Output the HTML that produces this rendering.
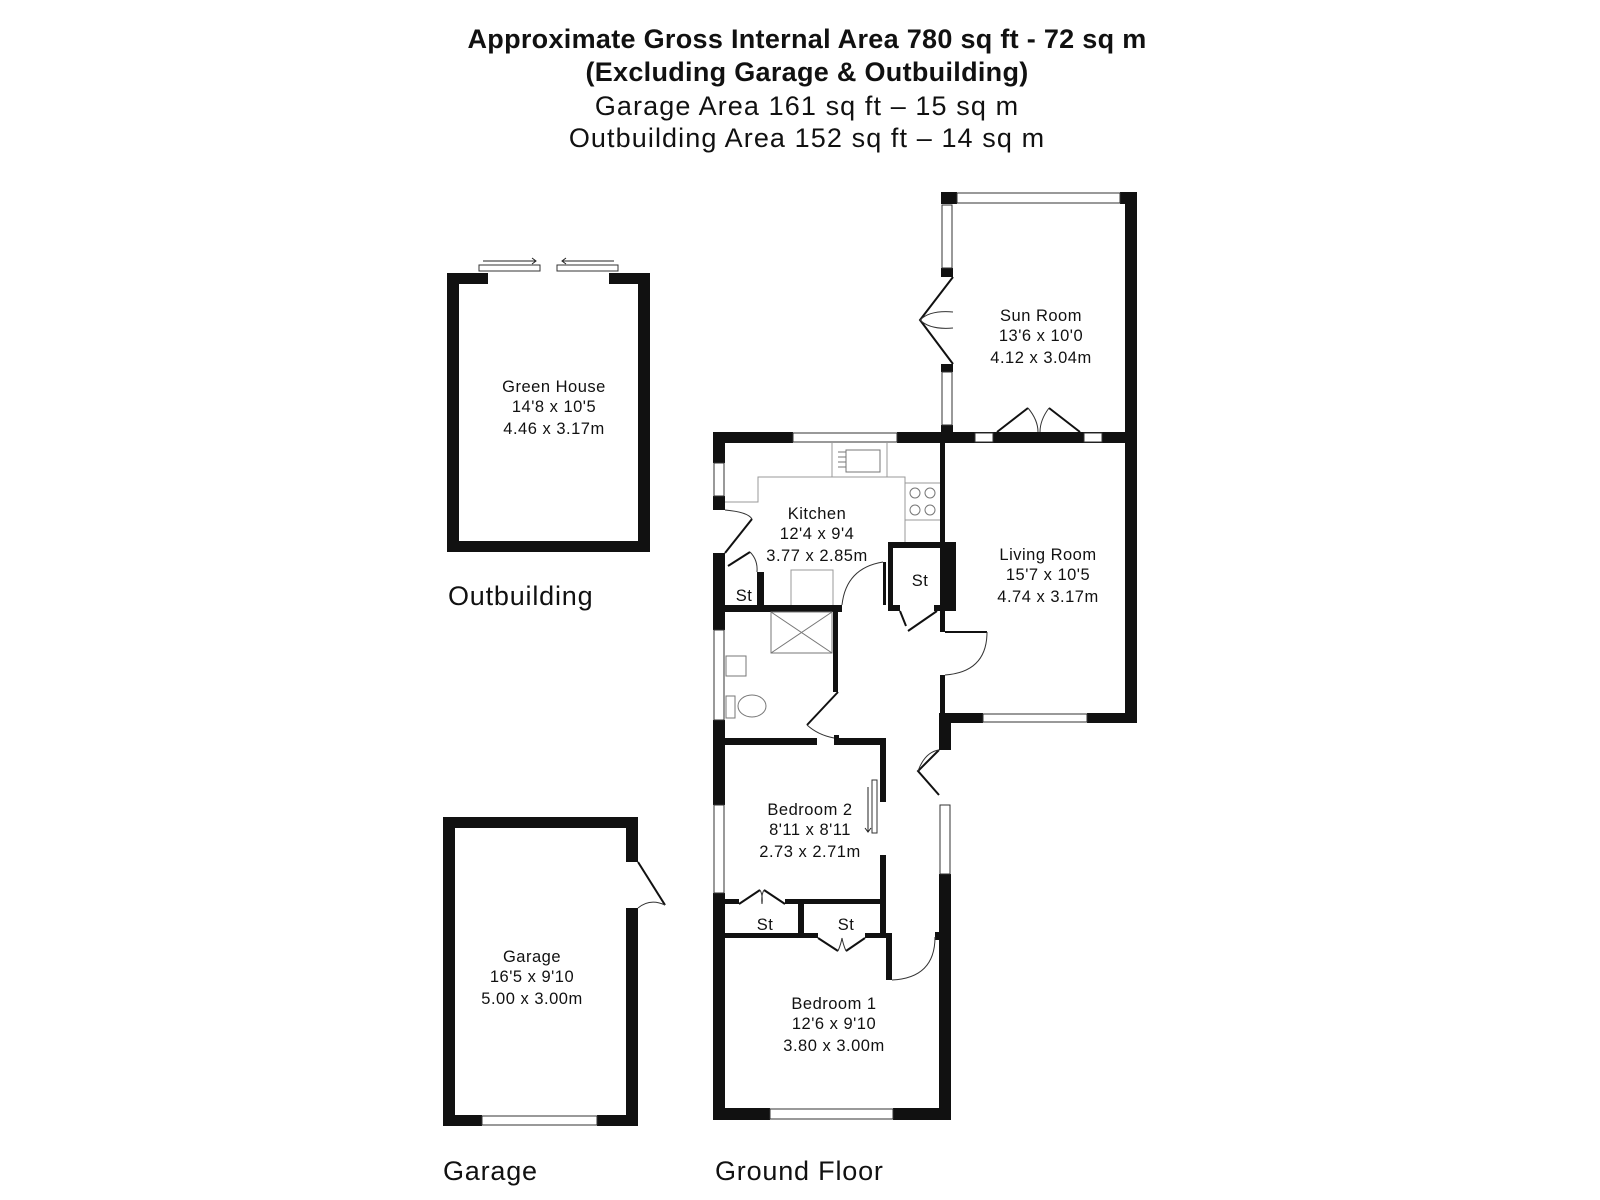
<!DOCTYPE html>
<html><head><meta charset="utf-8"><style>
html,body{margin:0;padding:0;background:#fff;}
svg{display:block;}
text{font-family:"Liberation Sans",Arial,sans-serif;fill:#111;}
</style></head><body>
<svg width="1600" height="1200" viewBox="0 0 1600 1200" xmlns="http://www.w3.org/2000/svg">
<g text-anchor="middle">
<text x="807" y="48" font-size="27" font-weight="bold" letter-spacing="0.3">Approximate Gross Internal Area 780 sq ft - 72 sq m</text>
<text x="807" y="81" font-size="27" font-weight="bold" letter-spacing="0.3">(Excluding Garage &amp; Outbuilding)</text>
<text x="807" y="115" font-size="27" letter-spacing="1.1">Garage Area 161 sq ft – 15 sq m</text>
<text x="807" y="147" font-size="27" letter-spacing="1.1">Outbuilding Area 152 sq ft – 14 sq m</text>
</g>
<text x="448" y="605" font-size="27" letter-spacing="0.8">Outbuilding</text>
<text x="443" y="1180" font-size="27" letter-spacing="0.8">Garage</text>
<text x="715" y="1180" font-size="27" letter-spacing="0.8">Ground Floor</text>

<g fill="#111">
<rect x="447" y="273" width="41" height="11"/>
<rect x="609" y="273" width="41" height="11"/>
<rect x="447" y="273" width="12" height="279"/>
<rect x="638" y="273" width="12" height="279"/>
<rect x="447" y="541" width="203" height="11"/>
<rect x="443" y="817" width="195" height="11"/>
<rect x="443" y="817" width="12" height="309"/>
<rect x="626" y="817" width="12" height="45"/>
<rect x="626" y="908" width="12" height="218"/>
<rect x="443" y="1115" width="39" height="11"/>
<rect x="597" y="1115" width="41" height="11"/>

<rect x="713" y="432" width="80" height="11"/>
<rect x="897" y="432" width="240" height="11"/>
<rect x="713" y="432" width="12" height="31"/>
<rect x="713" y="496" width="12" height="14"/>
<rect x="713" y="553" width="12" height="77"/>
<rect x="713" y="720" width="12" height="85"/>
<rect x="713" y="893" width="12" height="227"/>
<rect x="713" y="1108" width="57" height="12"/>
<rect x="893" y="1108" width="58" height="12"/>
<rect x="939" y="713" width="12" height="37"/>
<rect x="939" y="874" width="12" height="246"/>
<rect x="941" y="192" width="16" height="12"/>
<rect x="1120" y="192" width="17" height="12"/>
<rect x="1125" y="192" width="12" height="531"/>
<rect x="941" y="268" width="12" height="9"/>
<rect x="941" y="364" width="12" height="8"/>
<rect x="941" y="425" width="12" height="18"/>
<rect x="953" y="432" width="22" height="11"/>
<rect x="1102" y="432" width="35" height="11"/>
<rect x="993" y="432" width="4" height="11"/>
<rect x="1080" y="432" width="4" height="11"/>
<rect x="940" y="443" width="5" height="189"/>
<rect x="940" y="675" width="5" height="48"/>
<rect x="940" y="542" width="16" height="69"/>
<rect x="939" y="713" width="44" height="10"/>
<rect x="1087" y="713" width="50" height="10"/>
<rect x="888" y="542" width="68" height="6"/>
<rect x="888" y="542" width="5" height="69"/>
<rect x="888" y="605" width="12" height="6"/>
<rect x="934" y="605" width="7" height="6"/>
<rect x="883" y="562" width="3" height="43"/>
<rect x="757" y="572" width="7" height="40"/>
<rect x="725" y="605" width="117" height="7"/>
<rect x="833" y="612" width="5" height="80"/>
<rect x="725" y="738" width="92" height="7"/>
<rect x="834" y="735" width="5" height="10"/>
<rect x="834" y="738" width="52" height="7"/>
<rect x="880" y="738" width="6" height="64"/>
<rect x="880" y="855" width="6" height="82"/>
<rect x="725" y="899" width="14" height="5"/>
<rect x="785" y="899" width="101" height="5"/>
<rect x="798" y="904" width="6" height="33"/>
<rect x="725" y="933" width="93" height="5"/>
<rect x="865" y="933" width="27" height="5"/>
<rect x="886" y="937" width="6" height="43"/>
<rect x="935" y="932" width="4" height="8"/>
</g>

<g fill="#fff" stroke="#333" stroke-width="1">
<rect x="479" y="265" width="61" height="6"/>
<rect x="557" y="265" width="61" height="6"/>
<rect x="482" y="1116" width="115" height="9"/>
<rect x="793" y="433" width="104" height="9"/>
<rect x="714" y="463" width="10" height="33"/>
<rect x="714" y="630" width="10" height="90"/>
<rect x="714" y="805" width="10" height="88"/>
<rect x="770" y="1109" width="123" height="10"/>
<rect x="940" y="805" width="10" height="69"/>
<rect x="957" y="193" width="163" height="10"/>
<rect x="942" y="205" width="10" height="63"/>
<rect x="942" y="372" width="10" height="53"/>
<rect x="975" y="433" width="18" height="9"/>
<rect x="1084" y="433" width="18" height="9"/>
<rect x="983" y="714" width="104" height="8"/>
<rect x="872" y="780" width="5" height="53"/>
</g>

<g fill="none" stroke="#222" stroke-width="1">
<path d="M483 261 H536 M532 258 L536 261 L532 264"/>
<path d="M614 261 H562 M566 258 L562 261 L566 264"/>
<path d="M868 787 V832 M865 828 L868 832 L871 828"/>
<path stroke="#999" d="M725 502 H758 V477 H905 V542 M832 443 V477 M887 443 V477 M905 483 H940 M905 520 H940 M791 605 V570 H833 V605"/>
<rect x="846" y="450" width="34" height="22" stroke="#777"/>
<path stroke="#777" d="M838 452 H846 M838 457 H846 M838 462 H846 M838 467 H846"/>
<circle cx="915" cy="493" r="5" stroke="#777"/><circle cx="930" cy="493" r="5" stroke="#777"/>
<circle cx="915" cy="510" r="5" stroke="#777"/><circle cx="930" cy="510" r="5" stroke="#777"/>
<rect x="771" y="612" width="61" height="41" stroke="#777"/>
<path stroke="#777" d="M771 612 L832 653 M832 612 L771 653"/>
<rect x="726" y="656" width="20" height="20" stroke="#777"/>
<ellipse cx="752" cy="706" rx="14" ry="11" stroke="#777"/>
<rect x="726" y="696" width="9" height="22" stroke="#777"/>
</g>

<g fill="none" stroke="#111" stroke-width="2">
<path d="M953 277 L920 320 L953 364"/>
<path d="M997 432 L1028 408 M1080 432 L1049 408"/>
<path d="M725 553 L752 519"/>
<path d="M728 566 L750 552"/>
<path d="M900 611 L906 626 M937 611 L908 631"/>
<path d="M945 632 H987"/>
<path d="M838 692 L807 725"/>
<path d="M939 750 L918 771 L939 795"/>
<path d="M739 904 L760 890 M785 904 L764 890"/>
<path d="M818 938 L838 951 M865 938 L846 951"/>
<path d="M638 862 L665 905"/>
</g>
<g fill="none" stroke="#333" stroke-width="1">
<path d="M725 510 Q748 512 752 519"/>
<path d="M750 552 Q758 560 757 572"/>
<path d="M842 605 Q846 568 883 562"/>
<path d="M987 632 Q987 672 945 675"/>
<path d="M807 725 Q818 735 834 738"/>
<path d="M918 771 Q925 752 939 750"/>
<path d="M892 980 Q935 978 935 937"/>
<path d="M1028 408 Q1038 420 1038 432 M1049 408 Q1040 420 1040 432"/>
<path d="M920 320 Q930 310 953 312 M920 320 Q930 330 953 328"/>
<path d="M760 890 Q763 895 762 904 M764 890 Q761 895 762 904"/>
<path d="M838 951 Q841 944 842 938 M846 951 Q843 944 842 938"/>
<path d="M665 905 Q650 898 638 908"/>
</g>

<g text-anchor="middle" font-size="16.5" letter-spacing="0.5">
<text x="554" y="392">Green House</text><text x="554" y="412">14'8 x 10'5</text><text x="554" y="434">4.46 x 3.17m</text>
<text x="532" y="962">Garage</text><text x="532" y="982">16'5 x 9'10</text><text x="532" y="1004">5.00 x 3.00m</text>
<text x="1041" y="321">Sun Room</text><text x="1041" y="341">13'6 x 10'0</text><text x="1041" y="363">4.12 x 3.04m</text>
<text x="817" y="519">Kitchen</text><text x="817" y="539">12'4 x 9'4</text><text x="817" y="561">3.77 x 2.85m</text>
<text x="1048" y="560">Living Room</text><text x="1048" y="580">15'7 x 10'5</text><text x="1048" y="602">4.74 x 3.17m</text>
<text x="920" y="586">St</text><text x="744" y="601">St</text>
<text x="810" y="815">Bedroom 2</text><text x="810" y="835">8'11 x 8'11</text><text x="810" y="857">2.73 x 2.71m</text>
<text x="765" y="930">St</text><text x="846" y="930">St</text>
<text x="834" y="1009">Bedroom 1</text><text x="834" y="1029">12'6 x 9'10</text><text x="834" y="1051">3.80 x 3.00m</text>
</g>
</svg>
</body></html>
